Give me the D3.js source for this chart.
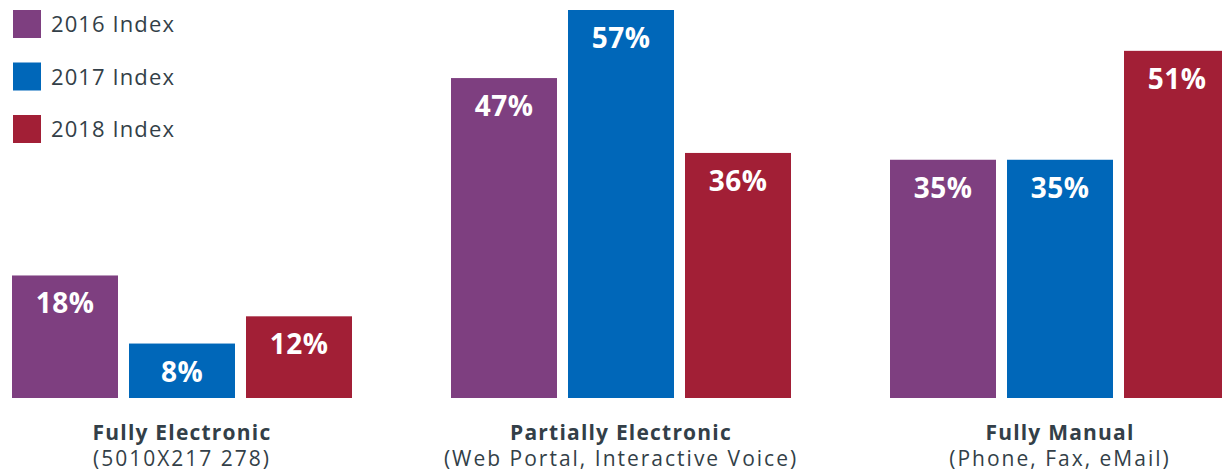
<!DOCTYPE html>
<html>
<head>
<meta charset="utf-8">
<script src="https://cdn.jsdelivr.net/npm/d3@7"></script>
<style>
  html, body { margin: 0; padding: 0; background: #fff; overflow: hidden; }
  svg { display: block; }
  text { font-family: "Open Sans", sans-serif; }
</style>
</head>
<body>
<svg id="chart" width="1222" height="472"></svg>
<script>
const categories = ["Fully Electronic", "Partially Electronic", "Fully Manual"];
const subLabels = ["(5010X217 278)", "(Web Portal, Interactive Voice)", "(Phone, Fax, eMail)"];
const seriesNames = ["2016 Index", "2017 Index", "2018 Index"];
const values2016 = [18, 47, 35];
const values2017 = [8, 57, 35];
const values2018 = [12, 36, 51];
const colors = ["#7e3f80", "#0067b9", "#a21f36"];

const seriesValues = [values2016, values2017, values2018];
const data = categories.map((c, i) => ({
  cat: c,
  sub: subLabels[i],
  vals: seriesNames.map((s, j) => ({ s, j, v: seriesValues[j][i] }))
}));

const svg = d3.select("#chart");
const textColor = "#333f48";

const x0 = d3.scaleBand().domain(categories).range([12, 1230]).paddingInner(99 / 439).paddingOuter(0);
const x1 = d3.scaleBand().domain(seriesNames).range([0, x0.bandwidth()]).paddingInner(11 / 117).paddingOuter(0);
const y = d3.scaleLinear().domain([0, 57]).range([398, 10]);
const color = d3.scaleOrdinal().domain(seriesNames).range(colors);

const groups = svg.selectAll("g.grp").data(data).join("g")
  .attr("class", "grp")
  .attr("transform", d => `translate(${x0(d.cat)},0)`);

groups.selectAll("rect").data(d => d.vals).join("rect")
  .attr("x", d => x1(d.s))
  .attr("y", d => y(d.v))
  .attr("width", x1.bandwidth())
  .attr("height", d => y(0) - y(d.v))
  .attr("fill", d => color(d.s));

groups.selectAll("text.val").data(d => d.vals).join("text")
  .attr("class", "val")
  .attr("x", d => x1(d.s) + x1.bandwidth() / 2)
  .attr("y", d => y(d.v) + 38)
  .attr("text-anchor", "middle")
  .attr("fill", "#fff")
  .attr("font-weight", 700)
  .attr("font-size", 28)
  .attr("letter-spacing", 0.5)
  .text(d => d.v + "%");

groups.append("text")
  .attr("x", x0.bandwidth() / 2)
  .attr("y", 440)
  .attr("text-anchor", "middle")
  .attr("fill", textColor)
  .attr("font-weight", 700)
  .attr("font-size", 21)
  .attr("letter-spacing", 1.2)
  .text(d => d.cat);

groups.append("text")
  .attr("x", x0.bandwidth() / 2)
  .attr("y", 466)
  .attr("text-anchor", "middle")
  .attr("fill", textColor)
  .attr("font-size", 21)
  .attr("letter-spacing", 2)
  .text(d => d.sub);

const legend = svg.selectAll("g.leg").data(seriesNames).join("g")
  .attr("class", "leg")
  .attr("transform", (d, i) => `translate(13,${10 + i * 52.5})`);
legend.append("rect").attr("width", 28).attr("height", 28).attr("fill", d => color(d));
legend.append("text")
  .attr("x", 38)
  .attr("y", 22)
  .attr("fill", textColor)
  .attr("font-size", 22)
  .attr("letter-spacing", 1.1)
  .text(d => d);
</script>
</body>
</html>
